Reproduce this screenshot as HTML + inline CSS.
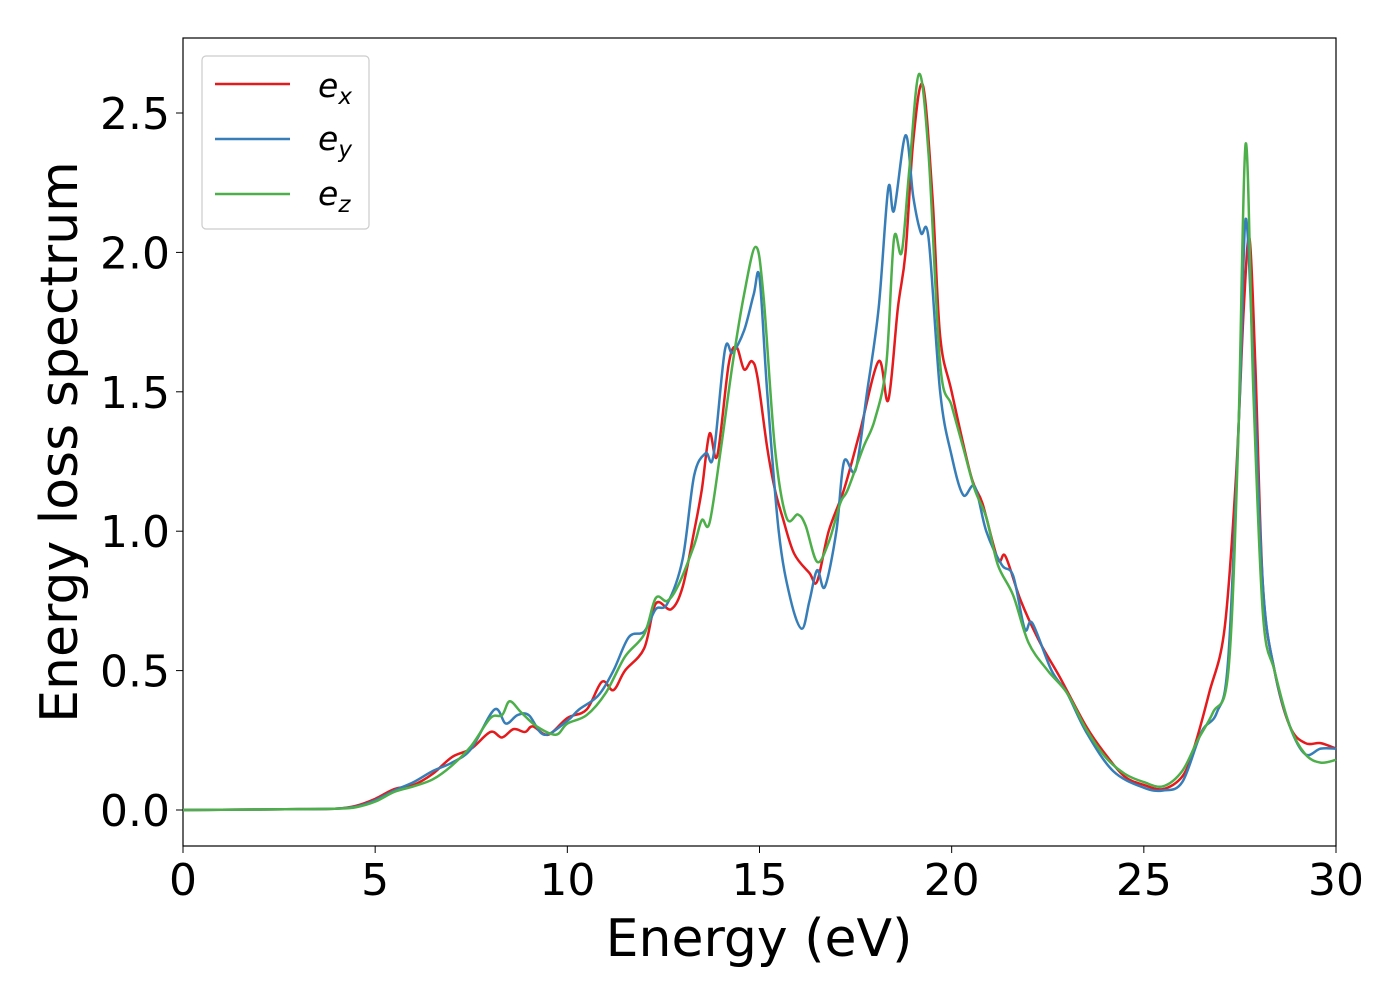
<!DOCTYPE html>
<html><head><meta charset="utf-8"><style>
body{margin:0;background:#fff;}
svg text{font-family:"DejaVu Sans","Liberation Sans",sans-serif;fill:#000;}
</style></head><body>
<svg id="chart" width="1400" height="1000" viewBox="0 0 1400 1000" xmlns="http://www.w3.org/2000/svg">
<rect x="183" y="38" width="1153" height="808" fill="#fff" stroke="#000" stroke-width="1.2"/>
<g id="xticks"></g>
<g id="yticks"></g>
<g id="series"></g>
<text x="759" y="956" font-size="52" text-anchor="middle">Energy (eV)</text>
<text x="0" y="0" font-size="52" text-anchor="middle" transform="translate(77,442) rotate(-90)">Energy loss spectrum</text>
<g>
<rect x="202" y="56" width="167" height="173" rx="4" fill="#fff" stroke="#ccc" stroke-width="1.2"/>
<line x1="215" y1="84" x2="290" y2="84" stroke="#e41a1c" stroke-width="2.5"/>
<text x="318" y="97" font-size="33" font-style="italic">e<tspan font-size="23" dy="7">x</tspan></text>
<line x1="215" y1="139" x2="290" y2="139" stroke="#377eb8" stroke-width="2.5"/>
<text x="318" y="150" font-size="33" font-style="italic">e<tspan font-size="23" dy="7">y</tspan></text>
<line x1="215" y1="194" x2="290" y2="194" stroke="#4daf4a" stroke-width="2.5"/>
<text x="318" y="205" font-size="33" font-style="italic">e<tspan font-size="23" dy="7">z</tspan></text>
</g>
</svg>
<script>
const xTicks=[0,5,10,15,20,25,30];
const yTicks=[0.0,0.5,1.0,1.5,2.0,2.5];
const yTickLabels=["0.0","0.5","1.0","1.5","2.0","2.5"];
const exE=[0,1,2,3,4,4.5,5,5.5,6,6.5,7,7.5,8,8.3,8.6,8.9,9.1,9.5,10,10.5,10.9,11.2,11.5,12,12.3,12.7,13,13.3,13.5,13.7,13.9,14.2,14.4,14.6,14.8,14.95,15.2,15.4,15.6,15.9,16.3,16.5,16.8,17.2,17.6,18.1,18.35,18.6,18.8,19.0,19.25,19.5,19.7,20,20.5,20.8,21.2,21.4,21.8,22.3,22.8,23.5,24,24.5,25,25.5,26,26.3,26.7,27.1,27.4,27.6,27.75,27.9,28.1,28.4,28.8,29.2,29.6,30];
const exV=[0,0.001,0.002,0.003,0.005,0.015,0.04,0.075,0.09,0.13,0.19,0.22,0.28,0.26,0.29,0.28,0.3,0.27,0.33,0.36,0.46,0.43,0.5,0.58,0.74,0.72,0.8,1.0,1.15,1.35,1.27,1.6,1.66,1.58,1.61,1.55,1.3,1.15,1.05,0.92,0.85,0.82,1.0,1.15,1.35,1.61,1.47,1.8,2.0,2.4,2.6,2.2,1.7,1.5,1.2,1.1,0.9,0.91,0.75,0.6,0.48,0.3,0.2,0.12,0.09,0.075,0.12,0.22,0.42,0.65,1.2,1.8,2.05,1.6,0.8,0.5,0.3,0.24,0.24,0.22];
const eyE=[0,1,2,3,4,4.5,5,5.5,6,6.5,7,7.5,8.1,8.4,8.7,9,9.4,10,10.3,10.8,11.2,11.6,12,12.3,12.6,13,13.3,13.6,13.8,14.1,14.3,14.6,14.85,15.0,15.2,15.5,15.8,16.1,16.3,16.5,16.7,17.0,17.2,17.5,17.8,18.1,18.35,18.5,18.8,19,19.2,19.4,19.7,20,20.3,20.6,20.9,21.3,21.6,21.9,22.1,22.6,23,23.5,24.2,25,25.5,26,26.5,26.9,27.2,27.5,27.65,27.85,28.1,28.4,28.8,29.2,29.6,30];
const eyV=[0,0.001,0.002,0.003,0.005,0.012,0.035,0.07,0.1,0.14,0.17,0.22,0.36,0.31,0.34,0.34,0.27,0.32,0.36,0.41,0.5,0.62,0.64,0.72,0.74,0.9,1.2,1.28,1.27,1.65,1.64,1.72,1.85,1.91,1.5,1.0,0.76,0.65,0.75,0.86,0.8,1.0,1.25,1.22,1.5,1.8,2.23,2.15,2.42,2.2,2.07,2.05,1.5,1.27,1.13,1.16,1.0,0.88,0.84,0.65,0.67,0.5,0.42,0.28,0.14,0.08,0.07,0.1,0.28,0.35,0.55,1.5,2.12,1.6,0.8,0.5,0.3,0.2,0.22,0.22];
const ezE=[0,1,2,3,4,4.5,5,5.5,6,6.5,7,7.5,8,8.3,8.5,8.8,9.2,9.7,10,10.5,11,11.5,12,12.3,12.6,12.9,13.3,13.5,13.7,14,14.3,14.6,14.9,15.1,15.4,15.7,16.0,16.2,16.5,16.8,17.1,17.3,17.7,18.0,18.3,18.5,18.7,18.9,19.15,19.4,19.7,20,20.3,20.6,20.9,21.2,21.6,22,22.5,23,23.5,24,24.5,25,25.5,26,26.4,26.8,27.2,27.45,27.65,27.85,28.1,28.4,28.8,29.2,29.6,30];
const ezV=[0,0.001,0.002,0.003,0.005,0.01,0.03,0.065,0.085,0.11,0.16,0.23,0.33,0.34,0.39,0.35,0.3,0.27,0.31,0.34,0.42,0.55,0.63,0.76,0.75,0.81,0.95,1.04,1.03,1.3,1.6,1.85,2.02,1.85,1.3,1.05,1.06,1.02,0.89,0.96,1.1,1.15,1.3,1.4,1.6,2.05,2.0,2.3,2.64,2.35,1.6,1.45,1.3,1.15,1.05,0.88,0.77,0.6,0.5,0.42,0.29,0.19,0.13,0.1,0.085,0.14,0.25,0.35,0.5,1.3,2.39,1.5,0.7,0.5,0.3,0.2,0.17,0.18];

const X0=183,X1=1336,Y0=810,Y25=113;
const sx=e=>X0+(X1-X0)*e/30;
const sy=v=>Y0-(Y0-Y25)*v/2.5;
const NS="http://www.w3.org/2000/svg";
const xg=document.getElementById('xticks'),yg=document.getElementById('yticks'),sg=document.getElementById('series');
xTicks.forEach(t=>{
  const l=document.createElementNS(NS,'line');
  
  
  l.setAttribute('x1',sx(t));l.setAttribute('x2',sx(t));l.setAttribute('y1',846);l.setAttribute('y2',853);l.setAttribute('stroke','#000');xg.appendChild(l);
  const tx=document.createElementNS(NS,'text');
  
  
  tx.setAttribute('x',sx(t));tx.setAttribute('y',895);tx.setAttribute('font-size','44');tx.setAttribute('text-anchor','middle');tx.textContent=t;xg.appendChild(tx);
});
yTicks.forEach((t,i)=>{
  const l=document.createElementNS(NS,'line');
  
  
  l.setAttribute('x1',176);l.setAttribute('x2',183);l.setAttribute('y1',sy(t));l.setAttribute('y2',sy(t));l.setAttribute('stroke','#000');yg.appendChild(l);
  const tx=document.createElementNS(NS,'text');
  
  
  tx.setAttribute('x',170);tx.setAttribute('y',sy(t)+16);tx.setAttribute('font-size','44');tx.setAttribute('text-anchor','end');tx.textContent=yTickLabels[i];yg.appendChild(tx);
});
function pathFor(E,V){
  const p=E.map((e,i)=>[sx(e),sy(V[i])]);
  let d='M'+p[0][0]+','+p[0][1];
  for(let i=0;i<p.length-1;i++){
    const a=p[Math.max(i-1,0)],b=p[i],c=p[i+1],dd=p[Math.min(i+2,p.length-1)];
    const c1=[b[0]+(c[0]-a[0])/6,b[1]+(c[1]-a[1])/6],c2=[c[0]-(dd[0]-b[0])/6,c[1]-(dd[1]-b[1])/6];
    d+=' C'+c1[0]+','+c1[1]+' '+c2[0]+','+c2[1]+' '+c[0]+','+c[1];
  }
  return d;
}
[[exE,exV,'#e41a1c','series-ex'],[eyE,eyV,'#377eb8','series-ey'],[ezE,ezV,'#4daf4a','series-ez']].forEach(s=>{
  const pa=document.createElementNS(NS,'path');
  
  
  pa.setAttribute('d',pathFor(s[0],s[1]));pa.setAttribute('fill','none');pa.setAttribute('stroke',s[2]);pa.setAttribute('stroke-width','2.5');
  sg.appendChild(pa);
});
</script>
</body></html>
